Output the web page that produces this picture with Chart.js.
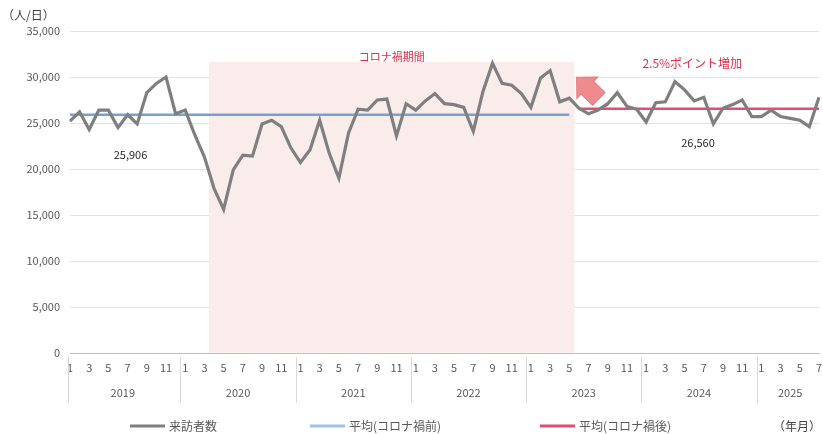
<!DOCTYPE html>
<html lang="ja">
<head>
  <meta charset="utf-8">
  <title>来訪者数</title>
  <script src="https://cdn.jsdelivr.net/npm/chart.js"></script>
  <style>
    html, body { margin: 0; padding: 0; background: #fff; }
  </style>
</head>
<body>
  <canvas id="visitChart" width="823" height="434"></canvas>

  <script>
    // data
    const years = ['2019', '2020', '2021', '2022', '2023', '2024', '2025'];
    const monthLabels = [
      '1', '2', '3', '4', '5', '6', '7', '8', '9', '10', '11', '12',
      '1', '2', '3', '4', '5', '6', '7', '8', '9', '10', '11', '12',
      '1', '2', '3', '4', '5', '6', '7', '8', '9', '10', '11', '12',
      '1', '2', '3', '4', '5', '6', '7', '8', '9', '10', '11', '12',
      '1', '2', '3', '4', '5', '6', '7', '8', '9', '10', '11', '12',
      '1', '2', '3', '4', '5', '6', '7', '8', '9', '10', '11', '12',
      '1', '2', '3', '4', '5', '6', '7'
    ];
    const visitors = [
      25200, 26200, 24300, 26400, 26400, 24500, 25900, 24900, 28300, 29300, 30000, 26000,
      26400, 23700, 21300, 17900, 15600, 19900, 21500, 21400, 24900, 25300, 24600, 22300,
      20700, 22100, 25300, 21700, 19000, 23900, 26500, 26400, 27500, 27600, 23600, 27100,
      26400, 27400, 28200, 27100, 27000, 26700, 24100, 28400, 31500, 29300, 29100, 28200,
      26700, 29900, 30700, 27300, 27700, 26600, 26000, 26400, 27100, 28300, 26800, 26500,
      25100, 27200, 27300, 29500, 28600, 27400, 27800, 24900, 26600, 27000, 27500, 25700,
      25700, 26400, 25700, 25500, 25300, 24600, 27800
    ];
    const preAvg = 25906;   // 2019/1 - 2023/5
    const postAvg = 26560;  // 2023/6 - 2025/7
    const covidFrom = 15;   // 2020/4
    const covidTo = 52;     // 2023/5
    const shadeTop = 31600;
    const yTicks = [0, 5000, 10000, 15000, 20000, 25000, 30000, 35000];

    const preLine = visitors.map((v, i) => i <= covidTo ? preAvg : null);
    const postLine = visitors.map((v, i) => i > covidTo ? postAvg : null);
    const shade = visitors.map((v, i) => i >= covidFrom && i <= covidTo ? shadeTop : null);

    const FONT = '"Noto Sans CJK JP", "Noto Sans", sans-serif';

    const decor = {
      id: 'decor',
      afterDraw(chart) {
        const { ctx, chartArea: a, scales: { x, y } } = chart;
        ctx.save();

        // year row under the month ticks
        ctx.strokeStyle = '#d9d9d9';
        ctx.lineWidth = 1;
        ctx.fillStyle = '#595959';
        ctx.font = '11px ' + FONT;
        ctx.textAlign = 'center';
        ctx.textBaseline = 'middle';
        years.forEach((yr, k) => {
          const first = k * 12;
          const last = Math.min(first + 11, monthLabels.length - 1);
          const sep = k === 0 ? a.left - 2 : (x.getPixelForValue(first - 1) + x.getPixelForValue(first)) / 2;
          ctx.beginPath();
          ctx.moveTo(Math.round(sep) + 0.5, a.bottom + 4);
          ctx.lineTo(Math.round(sep) + 0.5, a.bottom + 50);
          ctx.stroke();
          ctx.fillText(yr, (x.getPixelForValue(first) + x.getPixelForValue(last)) / 2, a.bottom + 40);
        });

        // average values
        ctx.fillStyle = '#262626';
        ctx.font = '11px ' + FONT;
        ctx.fillText(preAvg.toLocaleString('en-US'), x.getPixelForValue(6.3), y.getPixelForValue(21500));
        ctx.fillText(postAvg.toLocaleString('en-US'), x.getPixelForValue(65.4), y.getPixelForValue(22800));

        // red notes
        ctx.fillStyle = '#e0304a';
        ctx.fillText('コロナ禍期間', x.getPixelForValue(33.5), y.getPixelForValue(32150));
        ctx.font = '12px ' + FONT;
        ctx.fillText('2.5%ポイント増加', x.getPixelForValue(64.8), y.getPixelForValue(31500));

        // pink arrow
        const ax = x.getPixelForValue(54.1), ay = y.getPixelForValue(28600);
        ctx.translate(ax, ay);
        ctx.rotate(-0.8);
        ctx.beginPath();
        ctx.moveTo(0, -18);
        ctx.lineTo(15, -3);
        ctx.lineTo(9, -3);
        ctx.lineTo(9, 13);
        ctx.lineTo(-9, 13);
        ctx.lineTo(-9, -3);
        ctx.lineTo(-15, -3);
        ctx.closePath();
        ctx.fillStyle = '#ef8a8f';
        ctx.fill();
        ctx.strokeStyle = '#e77a80';
        ctx.stroke();
        ctx.setTransform(1, 0, 0, 1, 0, 0);

        // unit labels
        ctx.fillStyle = '#404040';
        ctx.font = '12px ' + FONT;
        ctx.textAlign = 'left';
        ctx.fillText('（人/日）', 2, 15);
        ctx.textAlign = 'right';
        ctx.fillText('（年月）', 821, 426);

        // legend
        const items = chart.data.datasets.filter(d => d.type === 'line');
        const starts = [130, 310, 540];
        ctx.textAlign = 'left';
        ctx.font = '12px ' + FONT;
        items.forEach((d, i) => {
          const sx = starts[i];
          ctx.strokeStyle = d.legendColor || d.borderColor;
          ctx.lineWidth = 3;
          ctx.beginPath();
          ctx.moveTo(sx, 426);
          ctx.lineTo(sx + 35, 426);
          ctx.stroke();
          ctx.fillStyle = '#595959';
          ctx.fillText(d.label, sx + 39, 426);
        });

        ctx.restore();
      }
    };

    new Chart(document.getElementById('visitChart'), {
      type: 'line',
      data: {
        labels: monthLabels,
        datasets: [
          { type: 'line', label: '来訪者数', data: visitors, borderColor: '#7f7f7f', borderWidth: 3.2, pointRadius: 0, tension: 0, order: 0 },
          { type: 'line', label: '平均(コロナ禍前)', data: preLine, borderColor: '#74a2d8', legendColor: '#9dc3e6', borderWidth: 2.5, pointRadius: 0, order: 1 },
          { type: 'line', label: '平均(コロナ禍後)', data: postLine, borderColor: '#e0506e', borderWidth: 2.5, pointRadius: 0, order: 1 },
          { type: 'bar', label: 'コロナ禍期間', data: shade, backgroundColor: '#f9ecea', barPercentage: 1, categoryPercentage: 1, order: 5 }
        ]
      },
      options: {
        responsive: false,
        animation: false,
        layout: { padding: { top: 31, right: 4, left: 0, bottom: 0 } },
        plugins: { legend: { display: false }, tooltip: { enabled: false } },
        scales: {
          x: {
            offset: false,
            grid: { display: false, drawTicks: false },
            border: { display: true, color: '#bfbfbf', dash: [2, 2] },
            ticks: {
              autoSkip: false, maxRotation: 0, padding: 8, color: '#595959',
              font: { size: 11, family: FONT },
              callback(v, i) { return i % 2 === 0 ? this.getLabelForValue(v) : ''; }
            },
            afterFit(s) { s.height = 81; s.paddingLeft = 0; s.paddingRight = 0; }
          },
          y: {
            min: 0, max: 35000,
            afterBuildTicks(s) { s.ticks = yTicks.map(v => ({ value: v })); },
            ticks: {
              padding: 10, color: '#595959',
              font: { size: 11, family: FONT },
              callback: v => v.toLocaleString('en-US')
            },
            grid: { color: '#e3e3e3', drawTicks: false },
            border: { display: false },
            afterFit(s) { s.width = 70; }
          }
        }
      },
      plugins: [decor]
    });
  </script>
</body>
</html>
